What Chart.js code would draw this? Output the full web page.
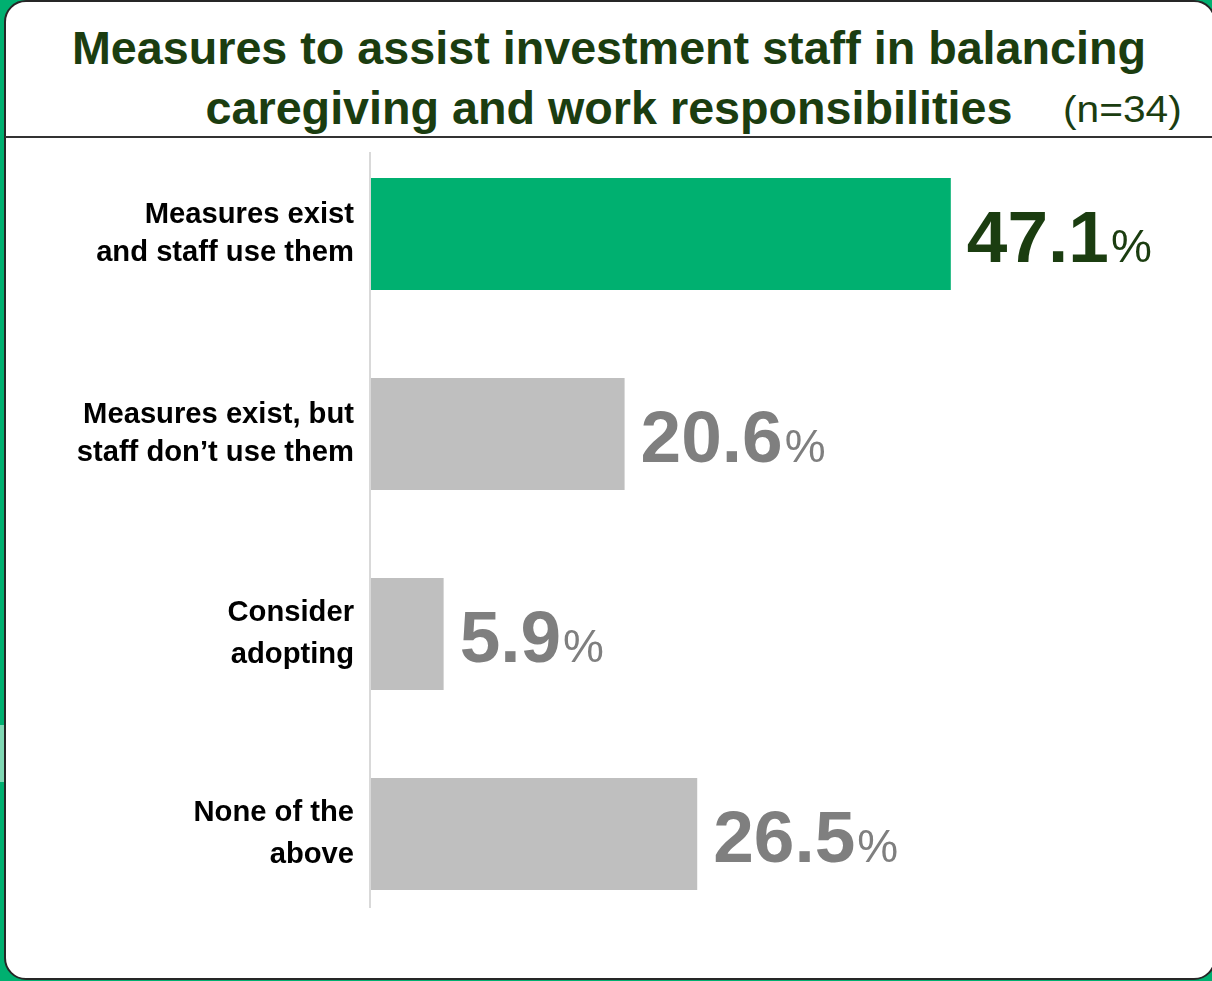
<!DOCTYPE html>
<html>
<head>
<meta charset="utf-8">
<script src="https://cdn.jsdelivr.net/npm/chart.js@4/dist/chart.umd.min.js"></script>
<style>
  html, body { margin: 0; padding: 0; }
  body { width: 1212px; height: 981px; background: #00b070; position: relative; overflow: hidden;
         font-family: "Liberation Sans", Arial, sans-serif; }
  .tab { position: absolute; left: 0; top: 725px; width: 4px; height: 57px; background: #80d8b4; }
  .card { position: absolute; left: 4px; top: 0; width: 1208px; height: 976px; background: #fff;
          border: 2px solid #262626; border-radius: 22px; }
  .rule { position: absolute; left: 5px; top: 136px; width: 1210px; height: 0; border-top: 2px solid #333; }
  .title { position: absolute; left: 0; width: 1218px; text-align: center; color: #1b3d10;
           font-weight: bold; font-size: 46.7px; line-height: 1; white-space: nowrap; }
  .n { position: absolute; left: 1063px; top: 92px; color: #1b3d10; font-size: 36px; line-height: 1;
       transform: scaleX(1.13); transform-origin: left center; white-space: nowrap; }
  canvas { position: absolute; left: 0; top: 0; }
</style>
</head>
<body>
<div class="tab"></div>
<div class="card"></div>
<div class="rule"></div>
<div class="title" style="top:25px">Measures to assist investment staff in balancing</div>
<div class="title" style="top:85px">caregiving and work responsibilities</div>
<div class="n">(n=34)</div>
<canvas id="c" width="1212" height="981"></canvas>
<script>
// Share of respondents by answer, in percent
const categories = [
  ["Measures exist", "and staff use them"],
  ["Measures exist, but", "staff don\u2019t use them"],
  ["Consider", "adopting"],
  ["None of the", "above"]
];
const shares = [47.1, 20.6, 5.9, 26.5];
const barColors = ["#00b070", "#bfbfbf", "#bfbfbf", "#bfbfbf"];
const valueColors = ["#1b3d10", "#7f7f7f", "#7f7f7f", "#7f7f7f"];
const labelLineHeights = [1.3, 1.3, 1.44, 1.44];

// Thin grey baseline next to the category labels
const baseline = {
  id: "baseline",
  beforeDatasetsDraw(chart) {
    const ctx = chart.ctx;
    const x = chart.chartArea.left - 1;
    ctx.save();
    ctx.strokeStyle = "#d9d9d9";
    ctx.lineWidth = 2;
    ctx.beginPath();
    ctx.moveTo(x, chart.chartArea.top + 18);
    ctx.lineTo(x, chart.chartArea.bottom - 26);
    ctx.stroke();
    ctx.restore();
  }
};

// Big value label with a smaller percent sign after each bar
const valueLabels = {
  id: "valueLabels",
  afterDatasetsDraw(chart) {
    const ctx = chart.ctx;
    const meta = chart.getDatasetMeta(0);
    ctx.save();
    ctx.textBaseline = "alphabetic";
    ctx.textAlign = "left";
    meta.data.forEach((bar, i) => {
      const num = shares[i].toFixed(1);
      const x = bar.x + 16;
      const y = bar.y + 28;
      ctx.fillStyle = valueColors[i];
      ctx.font = "bold 73px 'Liberation Sans', Arial, sans-serif";
      ctx.fillText(num, x, y);
      const w = ctx.measureText(num).width;
      ctx.font = "46px 'Liberation Sans', Arial, sans-serif";
      ctx.fillText("%", x + w + 2, y);
    });
    ctx.restore();
  }
};

new Chart(document.getElementById("c"), {
  type: "bar",
  data: {
    labels: categories,
    datasets: [{
      data: shares,
      backgroundColor: barColors,
      borderWidth: 0,
      categoryPercentage: 1,
      barPercentage: 0.56
    }]
  },
  options: {
    indexAxis: "y",
    responsive: false,
    animation: false,
    devicePixelRatio: 1,
    layout: { padding: { top: 134, bottom: 47, left: 0, right: 102.4 } },
    plugins: { legend: { display: false }, tooltip: { enabled: false }, title: { display: false } },
    scales: {
      x: { display: false, min: 0, max: 60 },
      y: {
        afterFit(scale) {
          scale.width = 371;
          scale.paddingTop = 0;
          scale.paddingBottom = 0;
        },
        grid: { display: false, drawTicks: false },
        border: { display: false },
        ticks: {
          padding: 17,
          color: "#000",
          font: (ctx) => ({
            family: "'Liberation Sans', Arial, sans-serif",
            size: 29.2,
            weight: "bold",
            lineHeight: labelLineHeights[ctx.index] || 1.3
          })
        }
      }
    }
  },
  plugins: [baseline, valueLabels]
});
</script>
</body>
</html>
